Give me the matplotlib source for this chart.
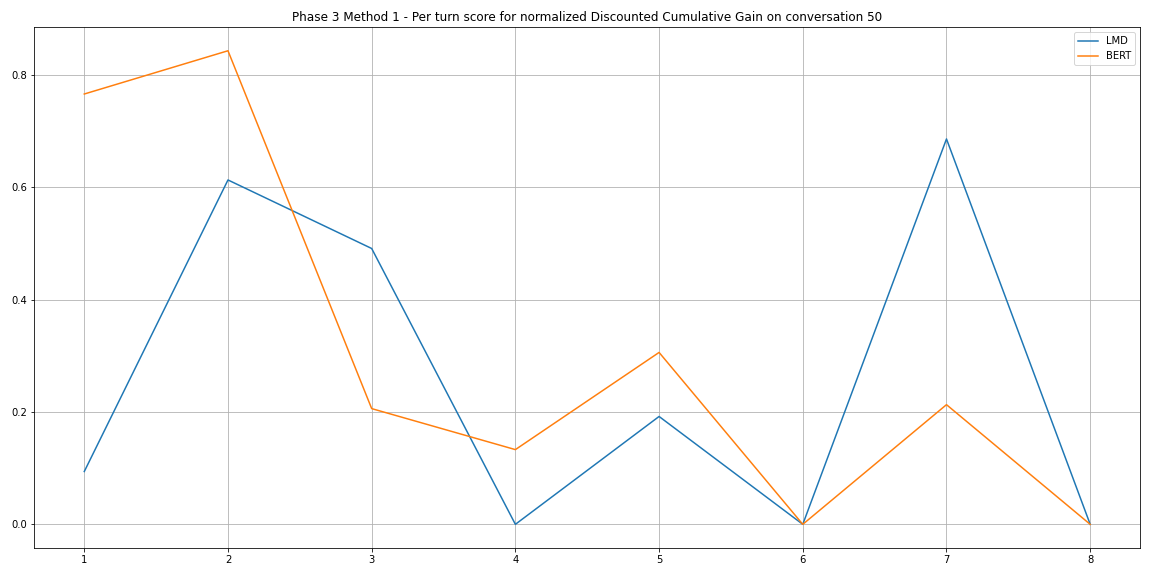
import matplotlib
matplotlib.use("Agg")
import matplotlib.pyplot as plt

# turns and per-turn nDCG scores
turns = [1, 2, 3, 4, 5, 6, 7, 8]
lmd = [0.094, 0.613, 0.491, 0.0, 0.192, 0.0, 0.686, 0.0]
bert = [0.766, 0.843, 0.206, 0.133, 0.306, 0.0, 0.213, 0.0]

fig = plt.figure(figsize=(16, 8), dpi=72)
ax = fig.add_axes([0.0295, 0.0486, 0.9605, 0.9044])
ax.plot(turns, lmd, label="LMD")
ax.plot(turns, bert, label="BERT")
ax.set_title("Phase 3 Method 1 - Per turn score for normalized Discounted Cumulative Gain on conversation 50")
ax.set_xticks(turns)
ax.legend(loc="upper right")
ax.grid(True)
fig.savefig("out.png", dpi=72)
